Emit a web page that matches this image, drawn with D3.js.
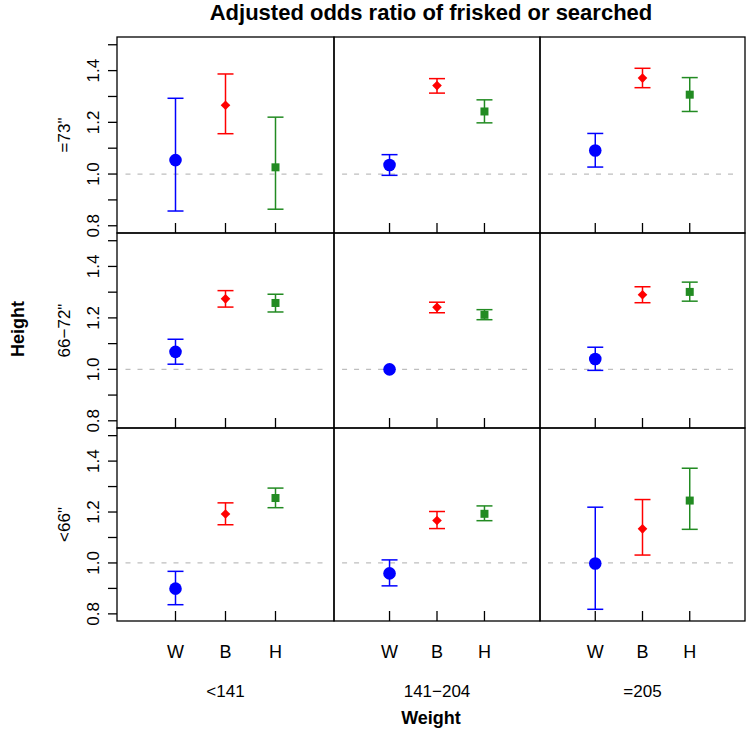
<!DOCTYPE html>
<html>
<head>
<meta charset="utf-8">
<script src="https://cdn.jsdelivr.net/npm/d3@7"></script>
<style>
  body { margin: 0; background: #fff; }
  svg { display: block; font-family: "Liberation Sans", Arial, Helvetica, sans-serif; }
</style>
</head>
<body>
<svg id="chart" width="748" height="734"></svg>
<script>
// ---- data ----
const title = "Adjusted odds ratio of frisked or searched";
const races = ["W", "B", "H"];
const raceColors = ["#0000FF", "#FF0000", "#228B22"];
const weightGroups = ["<141", "141\u2212204", "=205"];
const heightGroups = ["=73\"", "66\u221272\"", "<66\""];
const yTicks = [0.8, 0.9, 1.0, 1.1, 1.2, 1.3, 1.4, 1.5];
const yTickLabels = ["0.8", "", "1.0", "", "1.2", "", "1.4", ""];

// estimates[row][col][race]  rows: height (top to bottom), cols: weight
const estimates = [
  [[1.054, 1.266, 1.026], [1.035, 1.342, 1.242], [1.091, 1.371, 1.307]],
  [[1.068, 1.274, 1.258], [1.000, 1.241, 1.212], [1.040, 1.290, 1.301]],
  [[0.899, 1.192, 1.255], [0.959, 1.167, 1.193], [0.998, 1.134, 1.245]]
];
const lowers = [
  [[0.857, 1.156, 0.864], [0.995, 1.313, 1.198], [1.027, 1.334, 1.242]],
  [[1.020, 1.242, 1.223], [1.000, 1.220, 1.193], [0.996, 1.259, 1.265]],
  [[0.836, 1.150, 1.217], [0.910, 1.135, 1.166], [0.818, 1.031, 1.132]]
];
const uppers = [
  [[1.293, 1.387, 1.220], [1.075, 1.369, 1.287], [1.157, 1.409, 1.373]],
  [[1.117, 1.306, 1.292], [1.000, 1.261, 1.232], [1.086, 1.321, 1.339]],
  [[0.967, 1.236, 1.294], [1.012, 1.202, 1.224], [1.219, 1.249, 1.372]]
];

// ---- layout ----
const colEdges = [117, 334, 540, 745];
const rowEdges = [37, 233, 428, 621];
const yDomain = [0.772, 1.53];
const xDomain = [-0.17, 4.17];

const svg = d3.select("#chart");

svg.append("text").attr("x", 431).attr("y", 20).attr("text-anchor", "middle")
  .attr("font-size", 22).attr("font-weight", "bold").text(title);

for (let r = 0; r < 3; r++) {
  for (let c = 0; c < 3; c++) {
    const x = d3.scaleLinear().domain(xDomain).range([colEdges[c], colEdges[c + 1]]);
    const y = d3.scaleLinear().domain(yDomain).range([rowEdges[r + 1], rowEdges[r]]);
    const g = svg.append("g");

    // reference line at 1
    g.append("line")
      .attr("x1", x(0)).attr("x2", x(4)).attr("y1", y(1)).attr("y2", y(1))
      .attr("stroke", "#bebebe").attr("stroke-width", 1.2).attr("stroke-dasharray", "5,7");

    // bottom inward ticks
    races.forEach((d, i) => {
      g.append("line").attr("x1", x(i + 1)).attr("x2", x(i + 1))
        .attr("y1", rowEdges[r + 1]).attr("y2", rowEdges[r + 1] - 10)
        .attr("stroke", "#000").attr("stroke-width", 1.3);
    });

    // error bars and points
    races.forEach((d, i) => {
      const col = raceColors[i];
      const cx = x(i + 1);
      const lo = y(lowers[r][c][i]), hi = y(uppers[r][c][i]), pt = y(estimates[r][c][i]);
      if (Math.abs(lo - hi) > 0.5) {
        g.append("line").attr("x1", cx).attr("x2", cx).attr("y1", lo).attr("y2", hi)
          .attr("stroke", col).attr("stroke-width", 1.5);
        [lo, hi].forEach(v => {
          g.append("line").attr("x1", cx - 8).attr("x2", cx + 8).attr("y1", v).attr("y2", v)
            .attr("stroke", col).attr("stroke-width", 1.5);
        });
      }
      if (i === 0) {
        g.append("circle").attr("cx", cx).attr("cy", pt).attr("r", 6.3).attr("fill", col);
      } else if (i === 1) {
        const s = 4.8;
        g.append("path").attr("d", `M${cx},${pt - s}L${cx + s},${pt}L${cx},${pt + s}L${cx - s},${pt}Z`)
          .attr("fill", col);
      } else {
        g.append("rect").attr("x", cx - 4).attr("y", pt - 4).attr("width", 8).attr("height", 8)
          .attr("fill", col);
      }
    });

    // panel border
    g.append("rect").attr("x", colEdges[c]).attr("y", rowEdges[r])
      .attr("width", colEdges[c + 1] - colEdges[c]).attr("height", rowEdges[r + 1] - rowEdges[r])
      .attr("fill", "none").attr("stroke", "#000").attr("stroke-width", 1.3);

    // left axis for first column
    if (c === 0) {
      yTicks.forEach((t, k) => {
        g.append("line").attr("x1", colEdges[0] - 9).attr("x2", colEdges[0])
          .attr("y1", y(t)).attr("y2", y(t)).attr("stroke", "#000").attr("stroke-width", 1.3);
        if (yTickLabels[k]) {
          g.append("text").attr("transform", `translate(99,${y(t)}) rotate(-90)`)
            .attr("text-anchor", "middle").attr("font-size", 17).text(yTickLabels[k]);
        }
      });
      g.append("text")
        .attr("transform", `translate(70,${(rowEdges[r] + rowEdges[r + 1]) / 2}) rotate(-90)`)
        .attr("text-anchor", "middle").attr("font-size", 17).text(heightGroups[r]);
    }

    // bottom labels for last row
    if (r === 2) {
      races.forEach((d, i) => {
        g.append("text").attr("x", x(i + 1)).attr("y", 658).attr("text-anchor", "middle")
          .attr("font-size", 18).text(d);
      });
      g.append("text").attr("x", x(2)).attr("y", 697).attr("text-anchor", "middle")
        .attr("font-size", 17).text(weightGroups[c]);
    }
  }
}

svg.append("text").attr("x", 431).attr("y", 724).attr("text-anchor", "middle")
  .attr("font-size", 18).attr("font-weight", "bold").text("Weight");
svg.append("text").attr("transform", `translate(24,329) rotate(-90)`)
  .attr("text-anchor", "middle").attr("font-size", 18).attr("font-weight", "bold").text("Height");
</script>
</body>
</html>
